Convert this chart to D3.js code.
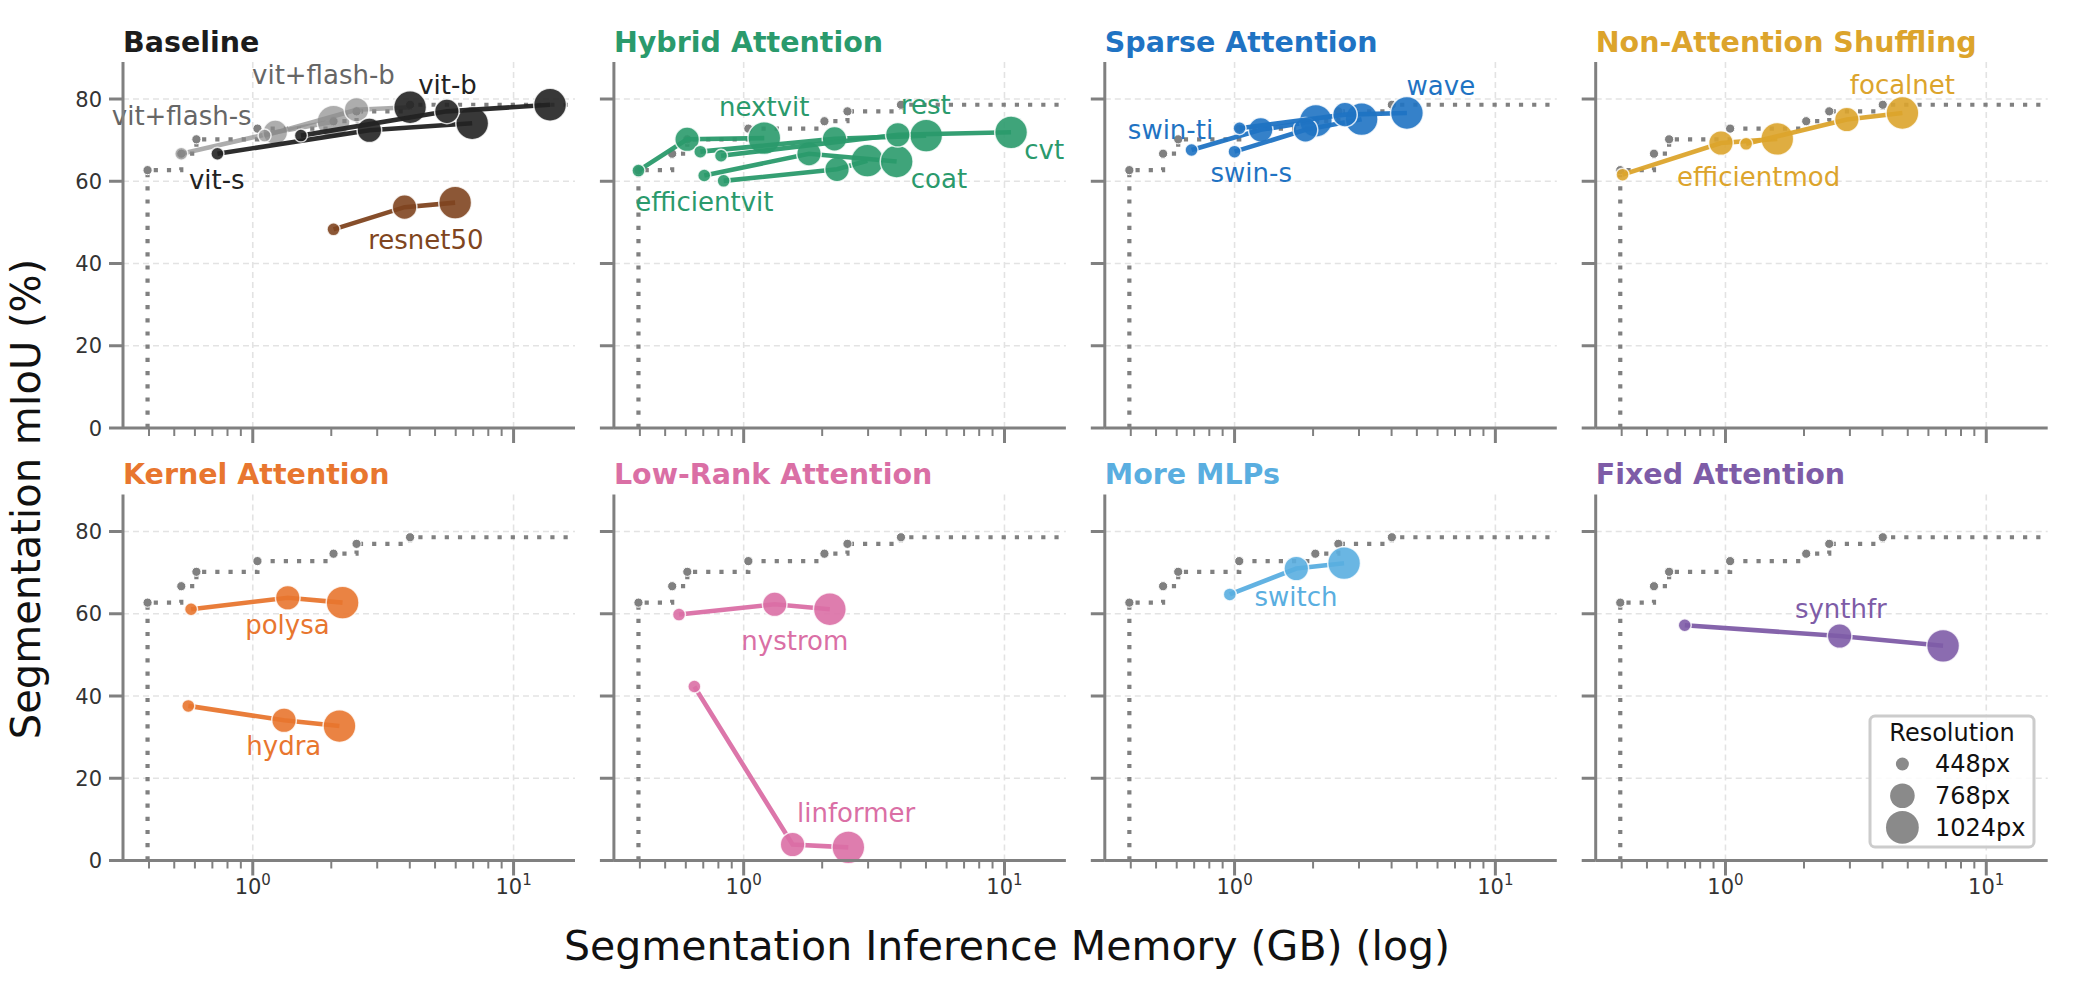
<!DOCTYPE html>
<html>
<head>
<meta charset="utf-8">
<script src="https://cdn.jsdelivr.net/npm/d3@7"></script>
<style>
  body { margin: 0; background: #fff; }
  text { font-family: "DejaVu Sans", sans-serif; }
</style>
</head>
<body>
<svg id="chart" width="2076" height="999"></svg>
<script>
// panels, left to right, top to bottom
var panelTitles = ['Baseline', 'Hybrid Attention', 'Sparse Attention', 'Non-Attention Shuffling',
  'Kernel Attention', 'Low-Rank Attention', 'More MLPs', 'Fixed Attention'];
var panelColors = ['#1c1c1c', '#2a9a6c', '#1f73c3', '#dca42c',
  '#e8762f', '#da6fa5', '#5aaee0', '#7e5ca7'];

var resolutions = ['448px', '768px', '1024px'];

// pareto front shared by every panel
var frontierMem = [0.395, 0.532, 0.608, 1.042, 2.04, 2.50, 4.01];
var frontierMiou = [62.7, 66.7, 70.2, 72.8, 74.6, 77.0, 78.6];

// one entry per model, values at 448 / 768 / 1024 px
var modelNames = ['vit+flash-s', 'vit+flash-b', 'vit-s', 'vit-b', 'resnet50',
  'efficientvit', 'nextvit', 'coat', 'rest', 'cvt',
  'swin-ti', 'swin-s', 'wave',
  'efficientmod', 'focalnet',
  'polysa', 'hydra',
  'nystrom', 'linformer',
  'switch',
  'synthfr'];
var modelPanel = [0, 0, 0, 0, 0, 1, 1, 1, 1, 1, 2, 2, 2, 3, 3, 4, 4, 5, 5, 6, 7];
var modelMem = [
  [0.532, 1.22, 2.04], [1.11, 2.50, 4.01], [0.732, 2.80, 6.94], [1.53, 5.55, 13.8], [2.04, 3.82, 5.97],
  [0.395, 0.607, 1.20], [0.838, 2.28, 2.98], [0.706, 1.78, 3.86], [0.682, 2.23, 5.01], [0.819, 3.90, 10.6],
  [0.684, 1.26, 2.05], [1.00, 1.87, 3.07], [1.045, 2.65, 4.58],
  [0.403, 0.961, 1.58], [1.20, 2.92, 4.77],
  [0.580, 1.362, 2.21], [0.566, 1.318, 2.15],
  [0.565, 1.315, 2.14], [0.647, 1.54, 2.52],
  [0.959, 1.725, 2.63],
  [0.698, 2.74, 6.83]
];
var modelMiou = [
  [66.7, 71.9, 74.5], [71.1, 77.4, 78.0], [66.7, 72.4, 74.1], [71.1, 77.0, 78.6], [48.3, 53.7, 54.8],
  [62.6, 70.2, 70.5], [60.1, 62.9, 65.0], [61.4, 66.7, 64.8], [67.2, 70.3, 71.1], [66.2, 71.3, 71.9],
  [67.6, 72.5, 74.7], [67.2, 72.5, 75.1], [72.9, 76.2, 76.6],
  [61.6, 69.3, 70.3], [69.1, 75.0, 76.6],
  [61.1, 63.9, 62.7], [37.6, 34.1, 32.7],
  [59.8, 62.3, 61.1], [42.3, 3.9, 3.2],
  [64.7, 71.0, 72.3],
  [57.2, 54.6, 52.2]
];
// where each model name sits (memory, mIoU)
var labelMem = [0.534, 1.866, 0.728, 5.58, 4.61,
  0.707, 1.20, 5.61, 4.99, 14.2,
  0.568, 1.159, 6.18,
  1.34, 4.77,
  1.358, 1.315,
  1.57, 2.70,
  1.72,
  2.77];
var labelMiou = [75.8, 85.9, 60.3, 83.5, 45.7,
  55.1, 78.2, 60.6, 78.6, 67.6,
  72.5, 62.0, 83.1,
  61.1, 83.5,
  57.2, 27.8,
  53.4, 11.5,
  64.0,
  61.3];

var yTicks = [0, 20, 40, 60, 80];

// baseline models get their own colours
var baselineColors = {'vit+flash-s': '#8a8a8a', 'vit+flash-b': '#8a8a8a',
  'vit-s': '#222222', 'vit-b': '#222222', 'resnet50': '#7f4520'};
var baselineText = {'vit+flash-s': '#666666', 'vit+flash-b': '#666666'};
// the 1024px flash-b marker shows up dark in the figure
var markerOverride = {'vit+flash-b': [null, null, '#222222']};

var svg = d3.select('#chart');
svg.append('rect').attr('width', 2076).attr('height', 999).attr('fill', '#fff');

var pw = 452, ph = 366;
var radius = [6.5, 12.3, 16.4];
var axisGrey = '#808080';

var x = d3.scaleLog().domain([0.318, 17.2]).range([0, pw]);
var y = d3.scaleLinear().domain([0, 89]).range([ph, 0]);

var majors = [1, 10];
var minors = [];
[0.1, 1].forEach(function(d) {
  for (var k = 2; k < 10; k++) {
    var v = d * k;
    if (v > 0.318 && v < 17.2) minors.push(v);
  }
});

var stepLine = d3.line()
  .x(function(d) { return x(d[0]); })
  .y(function(d) { return y(d[1]); })
  .curve(d3.curveStepAfter);

var frontierPts = [[frontierMem[0], 0]];
frontierMem.forEach(function(m, i) { frontierPts.push([m, frontierMiou[i]]); });
frontierPts.push([17.2, frontierMiou[frontierMiou.length - 1]]);

var modelLine = d3.line()
  .x(function(d) { return x(d[0]); })
  .y(function(d) { return y(d[1]); });

panelTitles.forEach(function(title, p) {
  var col = p % 4, row = Math.floor(p / 4);
  var g = svg.append('g')
    .attr('transform', 'translate(' + (123 + col * 490.9) + ',' + (row === 0 ? 62 : 494.5) + ')');

  // grid
  g.selectAll('.gx').data(majors).enter().append('line')
    .attr('x1', x).attr('x2', x).attr('y1', 0).attr('y2', ph)
    .attr('stroke', '#e3e3e3').attr('stroke-width', 1.6).attr('stroke-dasharray', '6 4');
  g.selectAll('.gy').data(yTicks.slice(1)).enter().append('line')
    .attr('x1', 0).attr('x2', pw).attr('y1', y).attr('y2', y)
    .attr('stroke', '#e3e3e3').attr('stroke-width', 1.6).attr('stroke-dasharray', '6 4');

  // pareto front
  g.append('path').datum(frontierPts)
    .attr('d', stepLine).attr('fill', 'none')
    .attr('stroke', axisGrey).attr('stroke-width', 4.2)
    .attr('stroke-dasharray', '4.2 9');
  g.selectAll('.fp').data(frontierMem).enter().append('circle')
    .attr('cx', x).attr('cy', function(d, i) { return y(frontierMiou[i]); })
    .attr('r', 4.6).attr('fill', axisGrey).attr('stroke', '#fff').attr('stroke-width', 1);

  // models
  var ids = d3.range(modelNames.length).filter(function(i) { return modelPanel[i] === p; });
  ids.forEach(function(i) {
    var name = modelNames[i];
    var c = baselineColors[name] || panelColors[p];
    var flash = name.indexOf('flash') >= 0;
    var over = markerOverride[name] || [];
    var pts = modelMem[i].map(function(m, k) { return [m, modelMiou[i][k]]; });
    g.append('path').datum(pts)
      .attr('d', modelLine).attr('fill', 'none')
      .attr('stroke', c).attr('stroke-width', 4.6)
      .attr('stroke-opacity', flash ? 0.7 : 0.95);
    g.selectAll(null).data(pts).enter().append('circle')
      .attr('cx', function(d) { return x(d[0]); })
      .attr('cy', function(d) { return y(d[1]); })
      .attr('r', function(d, k) { return radius[k]; })
      .attr('fill', function(d, k) { return over[k] || c; })
      .attr('fill-opacity', function(d, k) { return flash && !over[k] ? 0.7 : 0.9; })
      .attr('stroke', '#fff').attr('stroke-opacity', 0.8).attr('stroke-width', 1.5);
  });
  ids.forEach(function(i) {
    var name = modelNames[i];
    g.append('text')
      .attr('x', x(labelMem[i])).attr('y', y(labelMiou[i]))
      .attr('dy', '0.35em').attr('text-anchor', 'middle')
      .attr('font-size', 26)
      .attr('fill', baselineText[name] || baselineColors[name] || panelColors[p])
      .text(name);
  });

  // spines and ticks
  g.append('line').attr('x1', 0).attr('x2', 0).attr('y1', 0).attr('y2', ph)
    .attr('stroke', axisGrey).attr('stroke-width', 3);
  g.append('line').attr('x1', 0).attr('x2', pw).attr('y1', ph).attr('y2', ph)
    .attr('stroke', axisGrey).attr('stroke-width', 3);
  g.selectAll('.yt').data(yTicks).enter().append('line')
    .attr('x1', -14).attr('x2', 0).attr('y1', y).attr('y2', y)
    .attr('stroke', axisGrey).attr('stroke-width', 3);
  g.selectAll('.xt').data(majors).enter().append('line')
    .attr('x1', x).attr('x2', x).attr('y1', ph).attr('y2', ph + 15)
    .attr('stroke', axisGrey).attr('stroke-width', 3);
  g.selectAll('.xm').data(minors).enter().append('line')
    .attr('x1', x).attr('x2', x).attr('y1', ph).attr('y2', ph + 8)
    .attr('stroke', axisGrey).attr('stroke-width', 2);

  if (col === 0) {
    g.selectAll('.yl').data(yTicks).enter().append('text')
      .attr('x', -21).attr('y', y).attr('dy', '0.36em')
      .attr('text-anchor', 'end').attr('font-size', 21).attr('fill', '#333')
      .text(function(d) { return d; });
  }
  if (row === 1) {
    var xl = g.selectAll('.xl').data(majors).enter().append('text')
      .attr('x', x).attr('y', ph + 33)
      .attr('text-anchor', 'middle').attr('font-size', 21).attr('fill', '#333');
    xl.append('tspan').text('10');
    xl.append('tspan').attr('dy', -9).attr('font-size', 15)
      .text(function(d) { return Math.round(Math.log10(d)); });
  }

  g.append('text').attr('x', 0).attr('y', -10.5)
    .attr('font-size', 28.5).attr('font-weight', 'bold')
    .attr('fill', panelColors[p]).text(title);

  // legend lives in the last panel
  if (p === 7) {
    var lg = svg.append('g');
    lg.append('rect').attr('x', 1870).attr('y', 716).attr('width', 164).attr('height', 131)
      .attr('rx', 5).attr('fill', '#fff').attr('fill-opacity', 0.85)
      .attr('stroke', '#cccccc').attr('stroke-width', 3);
    lg.append('text').attr('x', 1952).attr('y', 733).attr('dy', '0.35em')
      .attr('text-anchor', 'middle').attr('font-size', 24).attr('fill', '#111').text('Resolution');
    resolutions.forEach(function(r, k) {
      lg.append('circle').attr('cx', 1902.4).attr('cy', 764 + k * 31.7)
        .attr('r', radius[k]).attr('fill', '#8a8a8a');
      lg.append('text').attr('x', 1935).attr('y', 764 + k * 31.7).attr('dy', '0.35em')
        .attr('font-size', 24).attr('fill', '#111').text(r);
    });
  }
});

svg.append('text').attr('x', 1007).attr('y', 960)
  .attr('text-anchor', 'middle').attr('font-size', 41).attr('fill', '#111')
  .text('Segmentation Inference Memory (GB) (log)');
svg.append('text').attr('transform', 'translate(40,499) rotate(-90)')
  .attr('text-anchor', 'middle').attr('font-size', 40).attr('fill', '#111')
  .text('Segmentation mIoU (%)');
</script>
</body>
</html>
